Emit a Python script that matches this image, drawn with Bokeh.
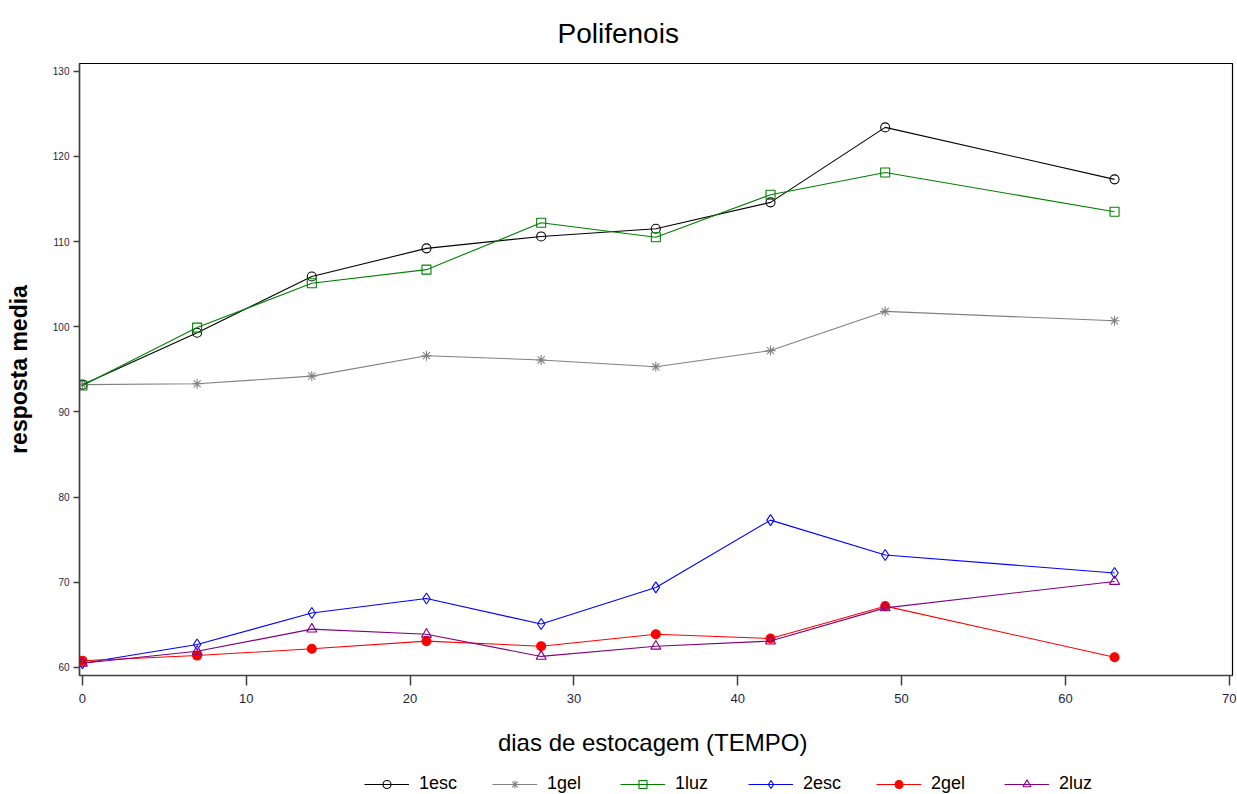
from bokeh.plotting import figure
from bokeh.layouts import column
from bokeh.models import Legend, LegendItem, Range1d, FixedTicker, Title
from bokeh.embed import file_html
from bokeh.resources import INLINE

days = [0, 7, 14, 21, 28, 35, 42, 49, 63]
esc1 = [93.2, 99.3, 105.9, 109.2, 110.6, 111.5, 114.6, 123.4, 117.3]
gel1 = [93.2, 93.3, 94.2, 96.6, 96.1, 95.3, 97.2, 101.8, 100.7]
luz1 = [93.1, 99.9, 105.1, 106.7, 112.2, 110.5, 115.5, 118.1, 113.5]
esc2 = [60.5, 62.7, 66.4, 68.1, 65.1, 69.4, 77.3, 73.2, 71.1]
gel2 = [60.8, 61.4, 62.2, 63.1, 62.5, 63.9, 63.4, 67.2, 61.2]
luz2 = [60.5, 61.9, 64.5, 63.9, 61.3, 62.5, 63.1, 67.0, 70.1]
series_names = ["1esc", "1gel", "1luz", "2esc", "2gel", "2luz"]
x_ticks = [0, 10, 20, 30, 40, 50, 60, 70]
y_ticks = [60, 70, 80, 90, 100, 110, 120, 130]

FONT = "Liberation Sans"

p = figure(width=1237, height=766, output_backend="svg", toolbar_location=None,
           x_range=Range1d(-0.18, 70.2), y_range=Range1d(59.06, 130.9),
           min_border_left=79, min_border_right=5, min_border_top=10,
           min_border_bottom=91)
p.title = Title(text="Polifenois", align="left", text_font=FONT,
                text_font_size="28px", text_font_style="normal", text_color="black",
                standoff=30, offset=478)

p.grid.visible = False
p.outline_line_color = "black"
p.outline_line_width = 1.2
p.background_fill_color = "white"
p.border_fill_color = "white"

for ax in (p.xaxis, p.yaxis):
    ax.axis_line_color = "#404040"
    ax.axis_line_width = 1.5
    ax.major_tick_line_color = "#404040"
    ax.major_tick_line_width = 1.5
    ax.minor_tick_line_color = None
    ax.major_tick_in = 0
    ax.major_label_text_font = FONT
    ax.major_label_text_color = "#1f1f3f"
    ax.axis_label_text_font = FONT

p.xaxis.ticker = FixedTicker(ticks=x_ticks)
p.yaxis.ticker = FixedTicker(ticks=y_ticks)
p.xaxis.major_tick_out = 10
p.yaxis.major_tick_out = 6
p.xaxis.major_label_text_font_size = "13px"
p.yaxis.major_label_text_font_size = "10px"
p.xaxis.major_label_standoff = 8
p.yaxis.major_label_standoff = 4

p.xaxis.axis_label = "dias de estocagem  (TEMPO)"
p.xaxis.axis_label_text_font_size = "24px"
p.xaxis.axis_label_text_font_style = "normal"
p.xaxis.axis_label_text_color = "black"
p.xaxis.axis_label_standoff = 23
p.yaxis.axis_label = "resposta media"
p.yaxis.axis_label_text_font_size = "23px"
p.yaxis.axis_label_text_font_style = "bold"
p.yaxis.axis_label_text_color = "black"
p.yaxis.axis_label_standoff = 18

styles = [
    (esc1, "black", "circle", None, 9),
    (gel1, "#808080", "asterisk", None, 10),
    (luz1, "#008000", "square", None, 9),
    (esc2, "#0000ff", "diamond", None, 11),
    (gel2, "#ff0000", "circle", "#ff0000", 9),
    (luz2, "#800080", "triangle", None, 10),
]

# legend strip below the chart (its ranges keep the data out of view)
lg = figure(width=1237, height=28, output_backend="svg", toolbar_location=None,
            x_axis_location=None, y_axis_location=None,
            x_range=Range1d(1000, 1001), y_range=Range1d(1000, 1001),
            min_border=0, min_border_left=0, min_border_right=0,
            min_border_top=0, min_border_bottom=0)
lg.grid.visible = False
lg.outline_line_color = None
lg.background_fill_color = "white"
lg.border_fill_color = "white"

items = []
for name, (vals, color, marker, fill, size) in zip(series_names, styles):
    p.line(days, vals, line_color=color, line_width=1.1)
    p.scatter(days, vals, marker=marker, size=size, line_color=color,
              fill_color=fill if fill else None, line_width=1.1)
    ln = lg.line(days, vals, line_color=color, line_width=1.1)
    mk = lg.scatter(days, vals, marker=marker, size=size, line_color=color,
                    fill_color=fill if fill else None, line_width=1.1)
    items.append(LegendItem(label=name, renderers=[ln, mk]))

legend = Legend(items=items, orientation="horizontal", location=(285, 0),
                glyph_width=45, glyph_height=20, label_height=20,
                label_standoff=10, label_width=68, spacing=5,
                label_text_font=FONT, label_text_font_size="18px",
                label_text_color="black",
                border_line_color=None, background_fill_alpha=0,
                padding=3, margin=0)
lg.add_layout(legend, "center")

layout = column(p, lg, spacing=0)
open("out.html", "w").write(file_html(layout, INLINE))
